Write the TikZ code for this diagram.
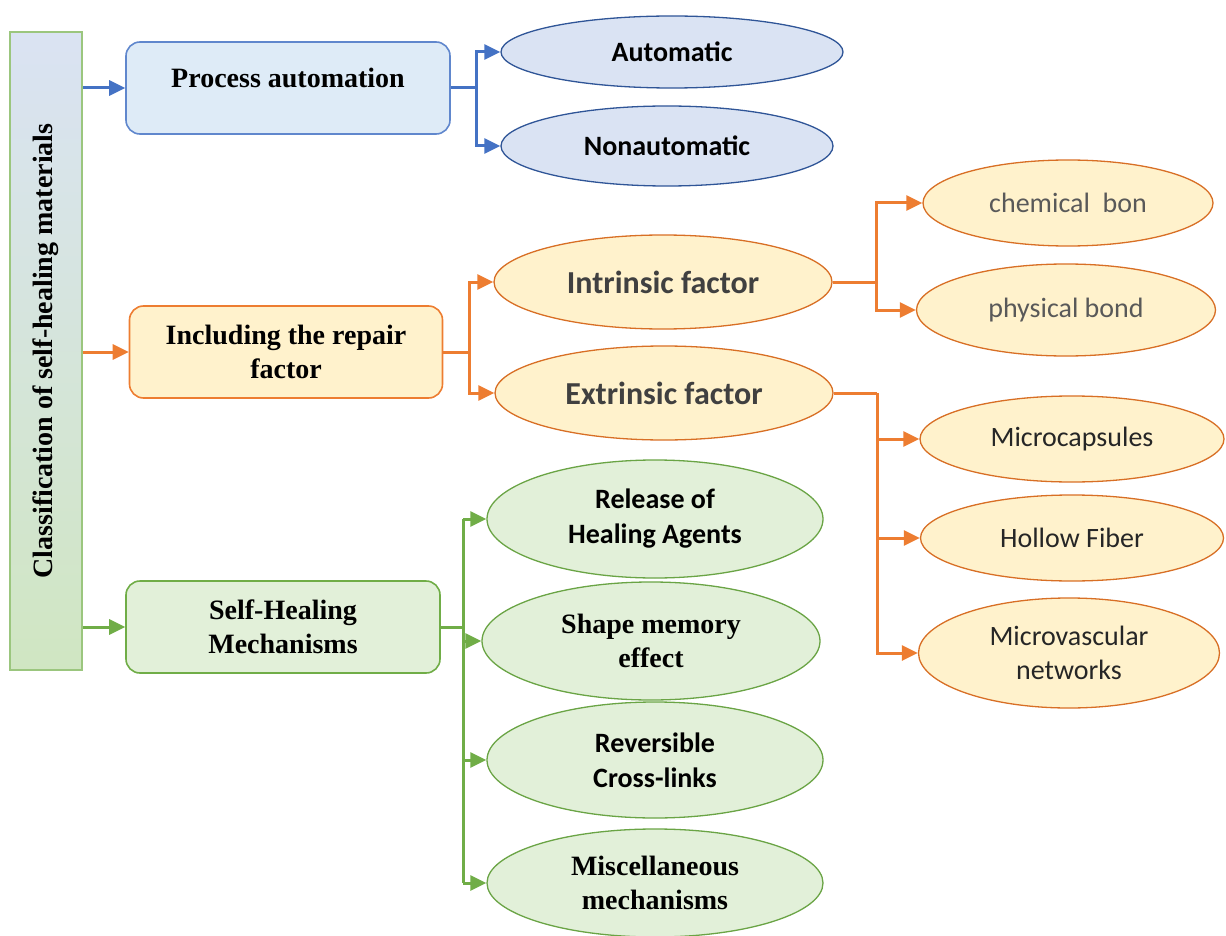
\documentclass[tikz,border=0pt]{standalone}
\usepackage{fontspec}
\setmainfont{Liberation Serif}
\newfontfamily\calfont{Carlito}
\usetikzlibrary{shapes.geometric,arrows.meta}

\definecolor{blueline}{HTML}{4472C4}
\definecolor{blueedge}{HTML}{2F5597}
\definecolor{bluefill}{HTML}{DEEBF7}
\definecolor{blueoval}{HTML}{DAE3F3}
\definecolor{orangeline}{HTML}{ED7D31}
\definecolor{orangeedge}{HTML}{D86F25}
\definecolor{orangefill}{HTML}{FFF2CC}
\definecolor{greenline}{HTML}{70AD47}
\definecolor{greenedge}{HTML}{6AA445}
\definecolor{greenfill}{HTML}{E2F0D9}
\definecolor{bartop}{HTML}{DAE3F3}
\definecolor{barmid}{HTML}{C5E0B4}
\definecolor{barbottom}{HTML}{D0E6C2}

\begin{document}
\begin{tikzpicture}[x=1pt,y=-1pt,
	box/.style={draw,rounded corners=14pt,line width=1.6pt,align=center,
		font=\fontsize{28}{34}\selectfont\bfseries},
	oval/.style={ellipse,draw,line width=1.3pt,inner sep=0pt,align=center},
	cal/.style={font=\calfont\fontsize{28}{35}\selectfont\bfseries},
	calbig/.style={font=\calfont\fontsize{32}{36}\selectfont\bfseries},
	calreg/.style={font=\calfont\fontsize{28}{34}\selectfont},
	tms/.style={font=\fontsize{28}{34}\selectfont\bfseries},
	link/.style={line width=3pt,-{Triangle[length=16pt,width=15pt]}},
	stem/.style={line width=3pt}]
	\useasboundingbox (0,0) rectangle (1226,936);

	% left bar
	\node[draw=greenline!70,line width=1.5pt,minimum width=638,minimum height=72,
		rotate=90,top color=bartop,middle color=barmid,bottom color=barbottom,
		font=\fontsize{28}{30}\selectfont\bfseries] (bar) at (46,351)
		{Classification of self-healing materials};

	% first level
	\node[box,draw=blueline!85,fill=bluefill,minimum width=324,minimum height=92,
		text depth=20pt] (pa) at (288,88) {Process automation};
	\node[box,draw=orangeline,fill=orangefill,minimum width=313,minimum height=92]
		(rf) at (286,352) {Including the repair\\factor};
	\node[box,draw=greenline,fill=greenfill,minimum width=314,minimum height=92]
		(sh) at (283,627) {Self-Healing\\Mechanisms};

	\draw[link,blueline] (bar.south |- pa) -- (pa.west);
	\draw[link,orangeline] (bar.south |- rf) -- (rf.west);
	\draw[link,greenline] (bar.south |- sh) -- (sh.west);

	% process automation
	\node[oval,cal,draw=blueedge,fill=blueoval,minimum width=342,minimum height=72]
		(auto) at (672,52) {Automatic};
	\node[oval,cal,draw=blueedge,fill=blueoval,minimum width=332,minimum height=80]
		(nonauto) at (667,146) {Nonautomatic};
	\coordinate (pasplit) at (476,88);
	\draw[stem,blueline] (pa.east) -- (pasplit);
	\draw[link,blueline] (pasplit) |- (auto.west);
	\draw[link,blueline] (pasplit) |- (nonauto.west);

	% repair factor
	\node[oval,calbig,text=black!75,draw=orangeedge,fill=orangefill,minimum width=338,
		minimum height=94] (intr) at (663,282) {Intrinsic factor};
	\node[oval,calbig,text=black!75,draw=orangeedge,fill=orangefill,minimum width=338,
		minimum height=94] (extr) at (664,393) {Extrinsic factor};
	\coordinate (rfsplit) at (469,352);
	\draw[stem,orangeline] (rf.east) -- (rfsplit);
	\draw[link,orangeline] (rfsplit) |- (intr.west);
	\draw[link,orangeline] (rfsplit) |- (extr.west);

	\node[oval,calreg,text=black!65,draw=orangeedge,fill=orangefill,minimum width=290,
		minimum height=86] (chem) at (1068,203) {chemical\ \ bon};
	\node[oval,calreg,text=black!65,draw=orangeedge,fill=orangefill,minimum width=299,
		minimum height=92] (phys) at (1066,310) {physical bond};
	\coordinate (insplit) at (876,282);
	\draw[stem,orangeline] (intr.east) -- (insplit);
	\draw[link,orangeline] (insplit) |- (chem.west);
	\draw[link,orangeline] (insplit) |- (phys.west);

	\node[oval,calreg,text=black!85,draw=orangeedge,fill=orangefill,minimum width=304,
		minimum height=86] (mcap) at (1072,439) {Microcapsules};
	\node[oval,calreg,text=black!85,draw=orangeedge,fill=orangefill,minimum width=303,
		minimum height=86] (hfib) at (1072,538) {Hollow Fiber};
	\node[oval,calreg,text=black!85,draw=orangeedge,fill=orangefill,minimum width=301,
		minimum height=110] (mvas) at (1069,653) {Microvascular\\networks};
	\coordinate (exsplit) at (877,393);
	\draw[stem,orangeline] (extr.east) -- (exsplit);
	\draw[link,orangeline] (exsplit) |- (mcap.west);
	\draw[link,orangeline] (exsplit) |- (hfib.west);
	\draw[link,orangeline] (exsplit) |- (mvas.west);

	% mechanisms
	\node[oval,cal,draw=greenedge,fill=greenfill,minimum width=336,minimum height=118]
		(rel) at (655,519) {Release of\\Healing Agents};
	\node[oval,tms,draw=greenedge,fill=greenfill,minimum width=338,minimum height=118]
		(smem) at (651,641) {Shape memory\\effect};
	\node[oval,cal,draw=greenedge,fill=greenfill,minimum width=336,minimum height=116]
		(rcl) at (655,760) {Reversible\\Cross-links};
	\node[oval,tms,draw=greenedge,fill=greenfill,minimum width=336,minimum height=108]
		(misc) at (655,883) {Miscellaneous\\mechanisms};
	\coordinate (shsplit) at (463,627);
	\draw[stem,greenline] (sh.east) -- (shsplit);
	\draw[stem,greenline] (shsplit |- rel) -- (shsplit |- misc);
	\draw[link,greenline] (shsplit |- rel) -- (rel.west);
	\draw[link,greenline] (shsplit |- smem) -- (smem.west);
	\draw[link,greenline] (shsplit |- rcl) -- (rcl.west);
	\draw[link,greenline] (shsplit |- misc) -- (misc.west);
\end{tikzpicture}
\end{document}
